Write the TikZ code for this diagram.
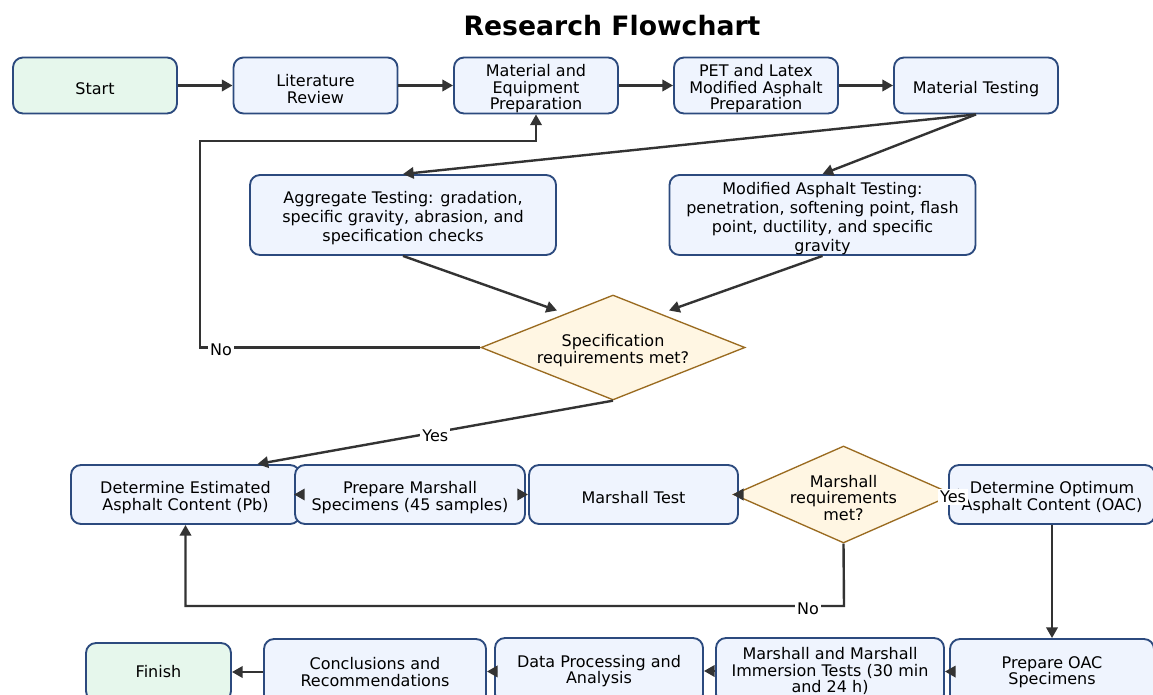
\documentclass[tikz,border=0pt]{standalone}
\usepackage{fontspec}
\setmainfont{DejaVu Sans}
\usetikzlibrary{shapes.geometric,arrows.meta,calc}
\definecolor{boxfill}{HTML}{EFF4FE}
\definecolor{boxline}{HTML}{2C4A7E}
\definecolor{startfill}{HTML}{E6F7EC}
\definecolor{decfill}{HTML}{FFF6E3}
\definecolor{decline}{HTML}{9A6B20}
\definecolor{arrcol}{HTML}{333333}
\begin{document}
\begin{tikzpicture}[x=0.75pt,y=-0.75pt,
 font=\fontsize{12}{12.4}\selectfont,
 proc/.style={draw=boxline,fill=boxfill,line width=1.4pt,rounded corners=7.5pt,align=center,inner sep=0pt},
 toprow/.style={proc,minimum width=123pt,minimum height=42pt},
 midbox/.style={proc,minimum width=229.5pt,minimum height=60pt},
 rowtwo/.style={proc,minimum height=44.25pt},
 rowthree/.style={proc,minimum height=49.5pt},
 dec/.style={diamond,draw=decline,fill=decfill,line width=1pt,align=center,inner sep=0pt},
 txt/.style={label={[align=center,yshift=-2.5pt,font=\fontsize{12}{12.4}\selectfont]center:{#1}}},
 txtw/.style={label={[align=center,yshift=-2.6pt,font=\fontsize{12}{14.25}\selectfont]center:{#1}}},
 arr/.style={draw=arrcol,line width=1.8pt,-{Triangle[length=8pt,width=8.5pt]}},
 lbl/.style={fill=white,inner sep=1.5pt,text=black}
]
\useasboundingbox (0,0) rectangle (1153,695);
\fill[white] (0,0) rectangle (1153,695);

\node[font=\fontsize{20}{24}\selectfont\bfseries] (title) at (612,26) {Research Flowchart};

% top row
\node[toprow,fill=startfill,txt={Start}] (start) at (95,85.5) {};
\node[toprow,txt={Literature\\Review}] (lit) at (315.5,85.5) {};
\node[toprow,txt={Material and\\Equipment\\Preparation}] (mat) at (536,85.5) {};
\node[toprow,txt={PET and Latex\\Modified Asphalt\\Preparation}] (pet) at (756,85.5) {};
\node[toprow,txt={Material Testing}] (mt) at (976,85.5) {};

% testing boxes
\node[midbox,txtw={Aggregate Testing: gradation,\\specific gravity, abrasion, and\\specification checks}] (agg) at (403,215) {};
\node[midbox,txtw={Modified Asphalt Testing:\\penetration, softening point, flash\\point, ductility, and specific\\gravity}] (mod) at (822.5,215) {};

% spec decision
\node[dec,minimum width=198pt,minimum height=78.75pt,txt={Specification\\requirements met?}] (spec) at (613,347.5) {};

% row two
\node[rowtwo,minimum width=171.75pt,txt={Determine Estimated\\Asphalt Content (Pb)}] (det) at (185.5,494.5) {};
\node[rowtwo,minimum width=172.5pt,txt={Prepare Marshall\\Specimens (45 samples)}] (prep) at (410,494.5) {};
\node[rowtwo,minimum width=156.75pt,txt={Marshall Test}] (mtest) at (633.5,494.5) {};
\node[dec,minimum width=165pt,minimum height=72.75pt,txt={Marshall\\requirements\\met?}] (mdia) at (843.5,494.5) {};
\node[rowtwo,minimum width=154.5pt,txt={Determine Optimum\\Asphalt Content (OAC)}] (oac) at (1052,494.5) {};

% row three
\node[proc,fill=startfill,minimum width=108.75pt,minimum height=43.5pt] (finish) at (158.5,672) {Finish};
\node[rowthree,minimum width=166.5pt] (concl) at (375,672) {Conclusions and\\Recommendations};
\node[rowthree,minimum width=156pt] (data) at (599,671) {Data Processing and\\Analysis};
\node[rowthree,minimum width=171pt] (mimm) at (830,671) {Marshall and Marshall\\Immersion Tests (30 min\\and 24 h)};
\node[rowthree,minimum width=153pt] (poac) at (1052,672) {Prepare OAC\\Specimens};

% connectors top row
\draw[arr] (start) -- (lit);
\draw[arr] (lit) -- (mat);
\draw[arr] (mat) -- (pet);
\draw[arr] (pet) -- (mt);
\draw[arr] (mt.south) -- (agg.north);
\draw[arr] (mt.south) -- (mod.north);
\draw[arr] (agg.south) -- ($(spec.center)+(-56,-37)$);
\draw[arr] (mod.south) -- ($(spec.center)+(56,-37)$);

% No loop (spec)
\coordinate (nl) at (200,141);
\draw[arr] (spec.west) -| (nl) -| (mat.south);
\node[lbl] (no1) at (221,350) {No};

% Yes (spec)
\draw[arr] (spec.south) -- ($(det.north)+(72,0)$) node[lbl,midway,yshift=-2.5pt] (yes1) {Yes};

% row two connectors
\draw[arr] (det) -- (prep);
\draw[arr] (prep) -- (mtest);
\draw[arr] (mtest) -- (mdia);
\draw[arr] (mdia) -- (oac);
\coordinate (n2) at (844,606);
\draw[arr] (mdia.south) -- (n2) -| (det.south);
\node[lbl] (no2) at (808,609) {No};
\node[lbl] (yes2) at (953,497) {Yes};

% down to row three
\draw[arr] (oac) -- (poac);
\draw[arr] (poac) -- (mimm);
\draw[arr] (mimm) -- (data);
\draw[arr] (data) -- (concl);
\draw[arr] (concl) -- (finish);
\end{tikzpicture}
\end{document}
